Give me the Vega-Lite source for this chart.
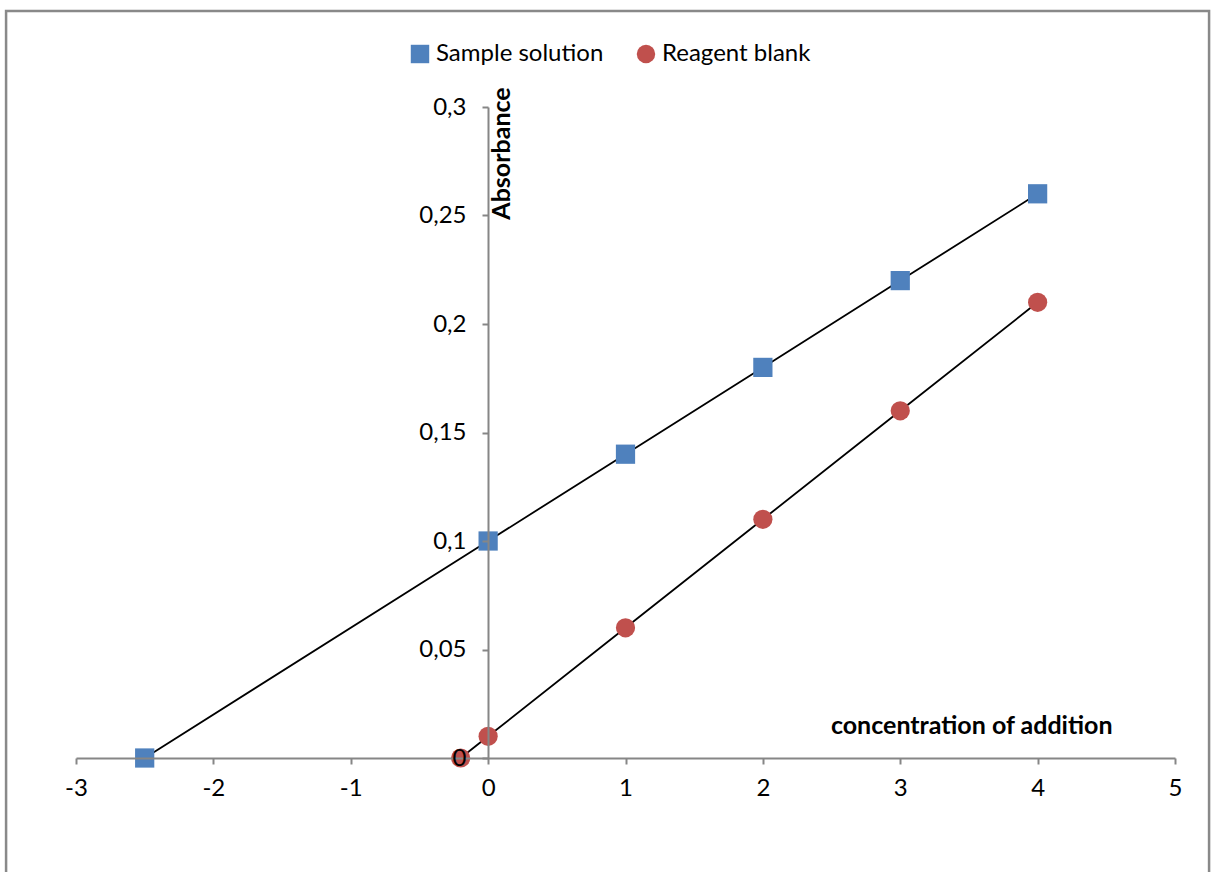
{
  "$schema": "https://vega.github.io/schema/vega-lite/v6.json",
  "width": 1099,
  "height": 651,
  "autosize": {"type": "none"},
  "padding": {"left": 76, "top": 107, "right": 36, "bottom": 114},
  "background": "white",
  "config": {"view": {"stroke": null}, "font": "Lato"},
  "data": {"values": [
    {"series": "Sample solution", "x": -2.5, "y": 0},
    {"series": "Sample solution", "x": 0, "y": 0.1},
    {"series": "Sample solution", "x": 1, "y": 0.14},
    {"series": "Sample solution", "x": 2, "y": 0.18},
    {"series": "Sample solution", "x": 3, "y": 0.22},
    {"series": "Sample solution", "x": 4, "y": 0.26},
    {"series": "Reagent blank", "x": -0.2, "y": 0},
    {"series": "Reagent blank", "x": 0, "y": 0.01},
    {"series": "Reagent blank", "x": 1, "y": 0.06},
    {"series": "Reagent blank", "x": 2, "y": 0.11},
    {"series": "Reagent blank", "x": 3, "y": 0.16},
    {"series": "Reagent blank", "x": 4, "y": 0.21}
  ]},
  "layer": [
    {
      "data": {"values": [{"frame": "border"}]},
      "mark": {"type": "rect", "fill": null, "stroke": "#898989", "strokeWidth": 2.5, "clip": false},
      "encoding": {
        "x": {"datum": -3.509, "type": "quantitative"},
        "x2": {"datum": 5.248},
        "y": {"datum": 0.3442, "type": "quantitative"},
        "y2": {"datum": -0.08}
      }
    },
    {
      "mark": {"type": "line", "color": "black", "strokeWidth": 1.8},
      "encoding": {
        "x": {"field": "x", "type": "quantitative"},
        "y": {"field": "y", "type": "quantitative"},
        "detail": {"field": "series"},
        "order": {"field": "x"}
      }
    },
    {
      "mark": {"type": "point", "filled": true, "opacity": 1, "size": 370, "strokeWidth": 0},
      "encoding": {
        "x": {
          "field": "x", "type": "quantitative",
          "scale": {"domain": [-3, 5], "nice": false, "zero": false},
          "axis": {
            "values": [-3, -2, -1, 0, 1, 2, 3, 4, 5],
            "grid": false, "zindex": 1,
            "domainColor": "#868686", "domainWidth": 2,
            "tickColor": "#868686", "tickWidth": 2, "tickSize": 6,
            "labelFontSize": 24, "labelColor": "black", "labelPadding": 12,
            "labelFlush": false, "labelOverlap": false,
            "labelExpr": "datum.value < 0 ? '-' + abs(datum.value) : '' + datum.value",
            "title": "concentration of addition",
            "titleFontSize": 25, "titleFontWeight": "bold", "titleColor": "black",
            "titleX": 1036, "titleY": -33, "titleAlign": "right", "titleBaseline": "middle"
          }
        },
        "y": {
          "field": "y", "type": "quantitative",
          "scale": {"domain": [0, 0.3], "nice": false, "zero": false},
          "axis": {
            "values": [0, 0.05, 0.1, 0.15, 0.2, 0.25, 0.3],
            "offset": -412,
            "grid": false, "zindex": 1,
            "domainColor": "#868686", "domainWidth": 2,
            "tickColor": "#868686", "tickWidth": 2, "tickSize": 6,
            "labelFontSize": 24, "labelColor": "black", "labelPadding": 16,
            "labelFlush": false, "labelOverlap": false,
            "labelExpr": "replace(format(datum.value, '~g'), '.', ',')",
            "title": "Absorbance",
            "titleFontSize": 25, "titleFontWeight": "bold", "titleColor": "black",
            "titleAngle": -90, "titleX": 1, "titleY": 46,
            "titleAlign": "center", "titleBaseline": "top"
          }
        },
        "color": {
          "field": "series", "type": "nominal",
          "scale": {"domain": ["Sample solution", "Reagent blank"], "range": ["#4F81BD", "#C0504D"]},
          "legend": {
            "title": null, "orient": "none", "direction": "horizontal",
            "legendX": 332, "legendY": -65,
            "labelFontSize": 24, "labelColor": "black", "labelOffset": 4, "labelLimit": 400,
            "symbolSize": 340, "symbolStrokeWidth": 0, "columnPadding": 30
          }
        },
        "shape": {
          "field": "series", "type": "nominal",
          "scale": {"domain": ["Sample solution", "Reagent blank"], "range": ["square", "circle"]}
        }
      }
    }
  ]
}
